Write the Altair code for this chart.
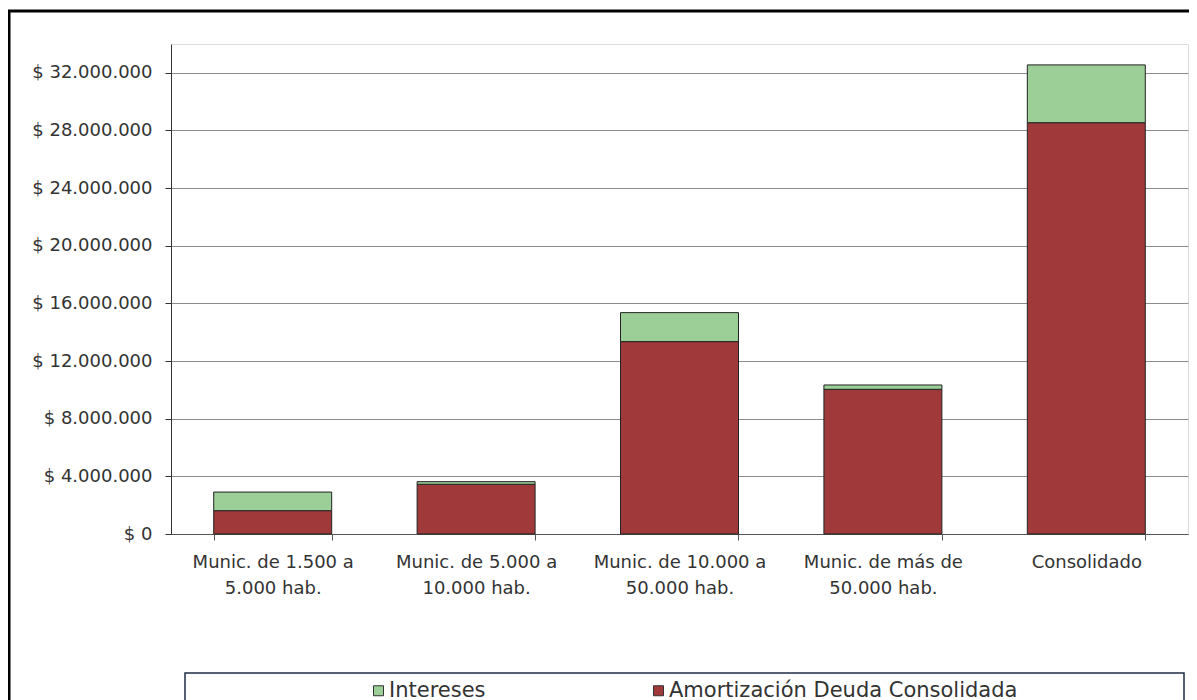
import altair as alt
import pandas as pd

categorias = [
    "Munic. de 1.500 a|5.000 hab.",
    "Munic. de 5.000 a|10.000 hab.",
    "Munic. de 10.000 a|50.000 hab.",
    "Munic. de más de|50.000 hab.",
    "Consolidado",
]
amortizacion = [1620000, 3450000, 13350000, 10040000, 28540000]
intereses = [1290000, 180000, 2010000, 300000, 4010000]
series = ["Intereses", "Amortización Deuda Consolidada"]
colores = ["#9ccf97", "#a03a3a"]
y_ticks = [0, 4000000, 8000000, 12000000, 16000000, 20000000, 24000000, 28000000, 32000000]

rows = []
for c, a, i in zip(categorias, amortizacion, intereses):
    rows.append({"cat": c, "serie": series[1], "valor": a, "orden": 0})
    rows.append({"cat": c, "serie": series[0], "valor": i, "orden": 1})
df = pd.DataFrame(rows)

FONT = "DejaVu Sans"
TXT = "#333333"

bars = alt.Chart(df).mark_bar(stroke="#222222", strokeWidth=1).encode(
    x=alt.X("cat:N", sort=categorias, title=None,
            scale=alt.Scale(paddingInner=0.42, paddingOuter=0.21),
            axis=alt.Axis(labelExpr="isValid(datum.value) ? split(datum.value, '|') : ''",
                          labelAngle=0,
                          labelFontSize=18, labelColor=TXT, labelFont=FONT,
                          labelLineHeight=26, labelPadding=13, labelLimit=0,
                          tickBand="extent", ticks=True, tickSize=6,
                          tickColor="#555555", domainColor="#555555",
                          grid=False)),
    y=alt.Y("valor:Q", stack="zero", title=None,
            scale=alt.Scale(domain=[0, 34000000], nice=False),
            axis=alt.Axis(values=y_ticks,
                          labelExpr="'$ ' + replace(format(datum.value, ','), regexp(',', 'g'), '.')",
                          labelFontSize=18, labelColor=TXT, labelFont=FONT,
                          labelPadding=13, tickSize=6, tickColor="#333333",
                          domainColor="#333333", gridColor="#8c8c8c",
                          gridWidth=1)),
    color=alt.Color("serie:N", title=None,
                    scale=alt.Scale(domain=series, range=colores),
                    legend=alt.Legend(orient="none", legendX=197, legendY=636,
                                      direction="horizontal", symbolType="square",
                                      symbolSize=100, symbolStrokeColor="#333333",
                                      symbolStrokeWidth=1, labelFontSize=21,
                                      labelFont=FONT, labelColor=TXT,
                                      labelLimit=600,
                                      columnPadding=162, padding=0,
                                      labelOffset=0)),
    order=alt.Order("orden:Q", sort="ascending"),
)

one = pd.DataFrame({"k": [0]})
frame = alt.Chart(one).mark_rect(fill=None, stroke="#000000", strokeWidth=3).encode(
    x=alt.value(-162), x2=alt.value(1250), y=alt.value(-33), y2=alt.value(800)
)
legend_box = alt.Chart(one).mark_rect(fill=None, stroke="#1f2d45", strokeWidth=1.5).encode(
    x=alt.value(14), x2=alt.value(1013), y=alt.value(629), y2=alt.value(800)
)

chart = alt.layer(frame, legend_box, bars).properties(
    width=1017, height=490,
    autosize=alt.AutoSizeParams(type="none"),
    padding={"left": 163, "top": 36, "right": 1, "bottom": 200},
).configure_view(stroke=None).configure(background="white")

chart.save("out.html", embed_options={"renderer": "svg", "actions": False})
